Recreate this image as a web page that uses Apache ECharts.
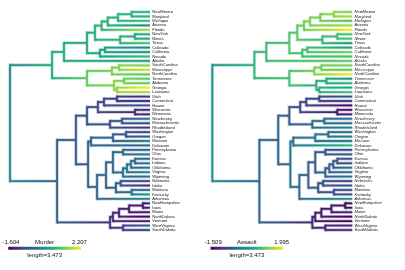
<!DOCTYPE html>
<html><head><meta charset="utf-8">
<script src="https://cdn.jsdelivr.net/npm/echarts@6/dist/echarts.min.js"></script>
<style>html,body{margin:0;padding:0;background:#fff}#c{width:405px;height:270px}</style>
</head><body><div id="c"></div>
<script>
// tip labels, top to bottom
const states = ["NewMexico","Maryland","Michigan","Arizona","Florida","NewYork","Illinois","Texas","Colorado","California","Nevada","Alaska","SouthCarolina","Mississippi","NorthCarolina","Tennessee","Alabama","Georgia","Louisiana","Utah","Connecticut","Hawaii","Wisconsin","Minnesota","NewJersey","Massachusetts","RhodeIsland","Washington","Oregon","Missouri","Delaware","Pennsylvania","Ohio","Kansas","Indiana","Oklahoma","Virginia","Wyoming","Nebraska","Idaho","Montana","Kentucky","Arkansas","NewHampshire","Iowa","Maine","NorthDakota","Vermont","WestVirginia","SouthDakota"];
// raw trait values in tip order
const murder = [11.4,11.3,12.1,8.1,15.4,11.1,10.4,12.7,7.9,9.0,12.2,10.0,14.4,16.1,13.0,13.2,13.2,17.4,15.4,3.2,3.3,5.3,2.6,2.7,7.4,4.4,3.4,4.0,4.9,9.0,5.9,6.3,7.3,6.0,7.2,6.6,8.5,6.8,4.3,2.6,6.0,9.7,8.8,2.1,2.2,2.1,0.8,2.2,5.7,3.8];
const assault = [285,300,255,294,335,254,249,201,204,276,252,263,279,259,337,188,236,211,249,120,110,46,53,72,159,149,174,145,159,178,238,106,120,115,113,151,156,161,102,120,109,109,190,57,56,83,45,48,81,86];
// tree: merges (negative = tip number, positive = earlier merge row), depth of each merge from root
const merges = [[-1,-2],[1,-3],[2,-4],[3,-5],[-6,-7],[5,-8],[4,6],[-9,-10],[8,-11],[7,9],[10,-12],
[-13,-14],[12,-15],[-16,-17],[-18,-19],[14,15],[13,16],[11,17],
[-20,-21],[19,-22],[-23,-24],[20,21],[-25,-26],[23,-27],[22,24],
[-28,-29],[26,-30],[27,-31],[-32,-33],[-34,-35],[30,-36],[31,-37],[32,-38],[29,33],
[-39,-40],[-41,-42],[35,36],[34,37],[38,-43],[28,39],[25,40],
[-44,-45],[42,-46],[43,-47],[44,-48],[-49,-50],[45,46],[41,47],[18,48]];
const nodeDepth = [5.81,5.16,4.67,4.38,5.97,5.26,4.06,4.54,4.30,3.68,2.58,
5.21,4.87,5.45,5.11,4.97,3.68,2.01,
5.11,4.49,5.97,4.20,5.35,4.78,3.68,
5.54,4.92,3.87,5.40,5.97,5.78,5.59,5.40,4.92,
5.29,5.81,5.06,4.59,4.16,3.73,3.15,
6.35,5.69,5.21,4.92,5.40,4.78,2.25,0];
const tipDepth = 6.69;
const legendLength = 3.473;
const viridis = ['#440154','#482475','#414487','#355f8d','#2a788e','#21918c','#22a884','#44bf70','#7ad151','#bddf26','#fde725'];

const NT = states.length;
function standardize(a){const n=a.length;const m=a.reduce((s,v)=>s+v,0)/n;const sd=Math.sqrt(a.reduce((s,v)=>s+(v-m)*(v-m),0)/(n-1));return a.map(v=>(v-m)/sd);}
function nid(e){return e<0?(-e-1):(NT+e-1);}
const N = NT+merges.length;
const depth=new Array(N), yPos=new Array(N), kids=new Array(N), parent=new Array(N).fill(-1);
for(let i=0;i<NT;i++){depth[i]=tipDepth;yPos[i]=i+1;kids[i]=[];}
merges.forEach((m,r)=>{const id=NT+r;const c=m.map(nid);kids[id]=c;depth[id]=nodeDepth[r];c.forEach(k=>parent[k]=id);yPos[id]=(Math.min(...c.map(k=>yPos[k]))+Math.max(...c.map(k=>yPos[k])))/2;});
const ROOT=N-1;
function ancestral(x){
  const md=new Array(N), vd=new Array(N), mu=new Array(N), vu=new Array(N), est=new Array(N);
  for(let i=0;i<N;i++){
    if(i<NT){md[i]=x[i];vd[i]=0;continue;}
    let sw=0,sm=0;kids[i].forEach(c=>{const w=1/(vd[c]+depth[c]-depth[i]);sw+=w;sm+=w*md[c];});
    md[i]=sm/sw;vd[i]=1/sw;
  }
  mu[ROOT]=null;
  for(let p=N-1;p>=NT;p--){
    const c=kids[p];
    c.forEach(k=>{
      let sw=0,sm=0;
      if(mu[p]!==null){sw+=1/vu[p];sm+=mu[p]/vu[p];}
      c.forEach(s=>{if(s!==k){const w=1/(vd[s]+depth[s]-depth[p]);sw+=w;sm+=w*md[s];}});
      mu[k]=sm/sw;vu[k]=1/sw+depth[k]-depth[p];
    });
  }
  for(let i=0;i<N;i++){
    if(i<NT){est[i]=x[i];continue;}
    if(mu[i]===null){est[i]=md[i];continue;}
    const w1=1/vd[i],w2=1/vu[i];est[i]=(w1*md[i]+w2*mu[i])/(w1+w2);
  }
  return est;
}
const vrgb=viridis.map(h=>[parseInt(h.slice(1,3),16),parseInt(h.slice(3,5),16),parseInt(h.slice(5,7),16)]);
function colorAt(t,alpha){t=Math.max(0,Math.min(1,t));const s=t*10;const i=Math.min(9,Math.floor(s));const f=s-i;const a=vrgb[i],b=vrgb[i+1];
  const c=[0,1,2].map(j=>Math.round(a[j]+(b[j]-a[j])*f));
  return alpha==null?'rgb('+c.join(',')+')':'rgba('+c.join(',')+','+alpha+')';}

function makeRender(raw,title,italic){
  const vals=ancestral(standardize(raw));
  const lo=Math.min(...vals),hi=Math.max(...vals);
  const norm=v=>(v-lo)/(hi-lo);
  return function(params,api){
    const under=[], over=[], labels=[];
    const P=(x,y)=>api.coord([x,y]);
    const LW=1.8, HW=3.4, HA=0.3;
    // horizontal edges
    for(let i=0;i<N;i++){
      if(i===ROOT)continue;
      const p=parent[i];
      const a=P(depth[p],yPos[i]), b=P(depth[i],yPos[i]);
      const va=vals[p], vb=vals[i];
      const st=[],sh=[];for(let k=0;k<=6;k++){const t=k/6;const n=norm(va+(vb-va)*t);st.push({offset:t,color:colorAt(n)});sh.push({offset:t,color:colorAt(n,HA)});}
      under.push({type:'line',shape:{x1:a[0],y1:a[1],x2:b[0],y2:b[1]},
        style:{stroke:new echarts.graphic.LinearGradient(a[0],a[1],b[0]+0.01,b[1],sh,true),lineWidth:HW,lineCap:'butt'}});
      over.push({type:'line',shape:{x1:a[0],y1:a[1],x2:b[0],y2:b[1]},
        style:{stroke:new echarts.graphic.LinearGradient(a[0],a[1],b[0]+0.01,b[1],st,true),lineWidth:LW,lineCap:'butt'}});
    }
    // vertical connectors
    for(let p=NT;p<N;p++){
      const ys=kids[p].map(k=>yPos[k]);
      const a=P(depth[p],Math.min(...ys)), b=P(depth[p],Math.max(...ys));
      const n=norm(vals[p]);
      under.push({type:'line',shape:{x1:a[0],y1:a[1]-HW/2,x2:b[0],y2:b[1]+HW/2},style:{stroke:colorAt(n,HA),lineWidth:HW,lineCap:'butt'}});
      over.push({type:'line',shape:{x1:a[0],y1:a[1]-LW/2,x2:b[0],y2:b[1]+LW/2},style:{stroke:colorAt(n),lineWidth:LW,lineCap:'butt'}});
    }
    // tip labels
    for(let i=0;i<NT;i++){
      const q=P(tipDepth,i+1);
      labels.push({type:'text',style:{text:states[i],x:q[0]+2.3,y:q[1],fontSize:4,fontFamily:'Liberation Sans',fontStyle:italic?'italic':'normal',fill:'#111',align:'left',verticalAlign:'middle'}});
    }
    // colour bar legend
    const y50=P(0,NT)[1];
    const x0=P(-0.085,0)[0], x1=P(-0.085+legendLength,0)[0];
    const bst=[];for(let k=0;k<=10;k++)bst.push({offset:k/10,color:colorAt(k/10)});
    labels.push({type:'rect',shape:{x:x0,y:y50+16.7,width:x1-x0,height:3},style:{fill:new echarts.graphic.LinearGradient(0,0,1,0,bst)}});
    const ts={fontSize:6,fontFamily:'Liberation Sans',fill:'#111',verticalAlign:'middle',align:'center'};
    labels.push({type:'text',style:Object.assign({},ts,{text:lo.toFixed(3),x:x0+2.7,y:y50+12})});
    labels.push({type:'text',style:Object.assign({},ts,{text:hi.toFixed(3),x:x1-1.5,y:y50+12})});
    labels.push({type:'text',style:Object.assign({},ts,{text:title,x:(x0+x1)/2,y:y50+12})});
    labels.push({type:'text',style:Object.assign({},ts,{text:'length='+legendLength,x:(x0+x1)/2,y:y50+25.5})});
    return {type:'group',children:under.concat(over,labels)};
  };
}

const chart=echarts.init(document.getElementById('c'),null,{renderer:'canvas'});
const ax={type:'value',min:0,max:tipDepth,show:false};
const ay={type:'value',min:1,max:NT,inverse:true,show:false};
chart.setOption({
  animation:false,
  grid:[{left:10,top:12,width:140,height:218},{left:212.3,top:12,width:140,height:218}],
  xAxis:[Object.assign({gridIndex:0},ax),Object.assign({gridIndex:1},ax)],
  yAxis:[Object.assign({gridIndex:0},ay),Object.assign({gridIndex:1},ay)],
  series:[
    {type:'custom',xAxisIndex:0,yAxisIndex:0,data:[0],renderItem:makeRender(murder,'Murder',false),silent:true},
    {type:'custom',xAxisIndex:1,yAxisIndex:1,data:[0],renderItem:makeRender(assault,'Assault',true),silent:true}
  ]
});
</script></body></html>
